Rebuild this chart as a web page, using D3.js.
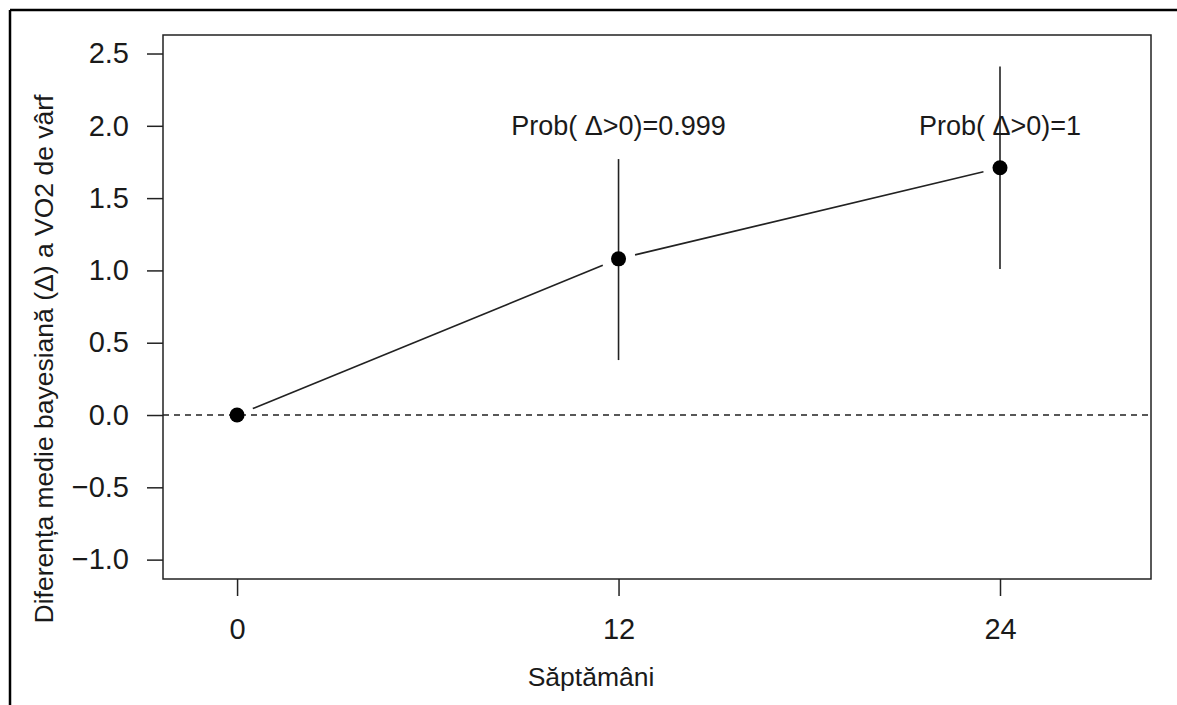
<!DOCTYPE html>
<html>
<head>
<meta charset="utf-8">
<script src="https://cdn.jsdelivr.net/npm/d3@7"></script>
<style>
  body { margin: 0; background: #fff; }
  text { font-family: "Liberation Sans", Arial, sans-serif; fill: #1a1a1a; }
</style>
</head>
<body>
<script>
// data
var weeks = [0, 12, 24];
var meanDiff = [0, 1.08, 1.71];
var lowerCI = [null, 0.38, 1.01];
var upperCI = [null, 1.77, 2.41];
var probLabels = [null, "Prob( \u0394>0)=0.999", "Prob( \u0394>0)=1"];
var probY = 2.0;
var xTicks = [0, 12, 24];
var yTicks = [-1.0, -0.5, 0.0, 0.5, 1.0, 1.5, 2.0, 2.5];

var width = 1177, height = 705;
var box = {left: 163, right: 1151, top: 35, bottom: 579};

var svg = d3.select("body")
    .append("svg")
    .attr("width", width)
    .attr("height", height);

// outer frame (top + left edges only visible)
svg.append("line").attr("x1", 10).attr("y1", 10).attr("x2", width).attr("y2", 10)
    .attr("stroke", "#000").attr("stroke-width", 2.5);
svg.append("line").attr("x1", 10).attr("y1", 10).attr("x2", 10).attr("y2", height)
    .attr("stroke", "#000").attr("stroke-width", 2.5);

var x = d3.scaleLinear().domain([-2.33, 28.75]).range([box.left, box.right]);
var y = d3.scaleLinear().domain([-1.134, 2.628]).range([box.bottom, box.top]);

// axes
var yAxis = svg.append("g")
    .attr("transform", "translate(" + box.left + ",0)")
    .call(d3.axisLeft(y).tickValues(yTicks).tickFormat(d3.format(".1f"))
      .tickSize(16).tickSizeOuter(0).tickPadding(18));
yAxis.select(".domain").remove();

var xAxis = svg.append("g")
    .attr("transform", "translate(0," + box.bottom + ")")
    .call(d3.axisBottom(x).tickValues(xTicks).tickFormat(d3.format("d"))
      .tickSize(17).tickSizeOuter(0).tickPadding(22));
xAxis.select(".domain").remove();

svg.selectAll(".tick line").attr("stroke", "#222").attr("stroke-width", 1.5);
svg.selectAll(".tick text")
    .style("font-family", "'Liberation Sans', Arial, sans-serif")
    .style("font-size", "29px")
    .attr("fill", "#2a2a2a");

// plot box
svg.append("rect")
    .attr("x", box.left).attr("y", box.top)
    .attr("width", box.right - box.left).attr("height", box.bottom - box.top)
    .attr("fill", "none").attr("stroke", "#222").attr("stroke-width", 1.5);

// reference line at zero
svg.append("line")
    .attr("x1", box.left).attr("x2", box.right)
    .attr("y1", y(0)).attr("y2", y(0))
    .attr("stroke", "#222").attr("stroke-width", 1.5)
    .attr("stroke-dasharray", "6,5");

// connecting segments with gaps around the points (type = "b")
var gap = 17;
for (var i = 0; i < weeks.length - 1; i++) {
  var x0 = x(weeks[i]), y0 = y(meanDiff[i]);
  var x1 = x(weeks[i + 1]), y1 = y(meanDiff[i + 1]);
  var len = Math.hypot(x1 - x0, y1 - y0);
  var ux = (x1 - x0) / len, uy = (y1 - y0) / len;
  svg.append("line")
      .attr("x1", x0 + ux * gap).attr("y1", y0 + uy * gap)
      .attr("x2", x1 - ux * gap).attr("y2", y1 - uy * gap)
      .attr("stroke", "#222").attr("stroke-width", 1.6);
}

// credible intervals
weeks.forEach(function(w, i) {
  if (lowerCI[i] === null) return;
  svg.append("line")
      .attr("x1", x(w)).attr("x2", x(w))
      .attr("y1", y(lowerCI[i])).attr("y2", y(upperCI[i]))
      .attr("stroke", "#222").attr("stroke-width", 1.6);
});

// points
svg.selectAll("circle.pt")
    .data(weeks)
    .enter().append("circle")
    .attr("class", "pt")
    .attr("cx", function(d) { return x(d); })
    .attr("cy", function(d, i) { return y(meanDiff[i]); })
    .attr("r", 7.5)
    .attr("fill", "#000");

// probability labels
weeks.forEach(function(w, i) {
  if (!probLabels[i]) return;
  svg.append("text")
      .attr("x", x(w)).attr("y", y(probY))
      .attr("dy", "0.35em")
      .attr("text-anchor", "middle")
      .style("font-size", "27px")
      .text(probLabels[i]);
});

// axis titles
svg.append("text")
    .attr("x", 591).attr("y", 686)
    .attr("text-anchor", "middle")
    .style("font-size", "26.5px")
    .text("Săptămâni");

svg.append("text")
    .attr("transform", "translate(53,359) rotate(-90)")
    .attr("text-anchor", "middle")
    .style("font-size", "26.5px")
    .text("Diferența medie bayesiană (\u0394) a VO2 de vârf");
</script>
</body>
</html>
